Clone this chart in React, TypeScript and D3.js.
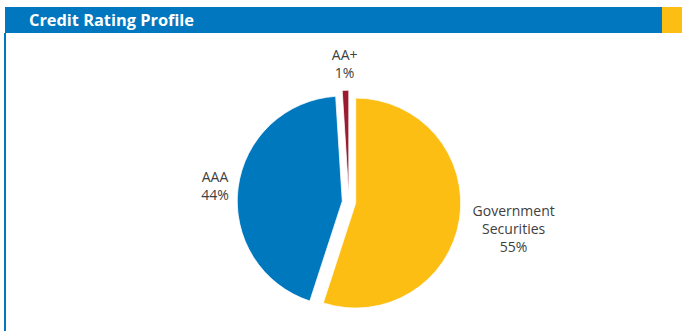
import React from "react";
import * as d3 from "d3";

const categories = ["Government\nSecurities", "AAA", "AA+"];
const values = [55, 44, 1];
const colors = ["#FDBE14", "#0078BE", "#9B1B30"];
const title = "Credit Rating Profile";

const W = 682;
const H = 331;
const cx = 349;
const cy = 202;
const R = 105;
const explode = 6.8;
const lineH = 18;
const fontSize = 14;
const font = "'Open Sans', 'DejaVu Sans', sans-serif";

export default function App() {
  const pie = d3
    .pie<number>()
    .sort(null)
    .value((d) => d)
    .startAngle(0)
    .endAngle(2 * Math.PI);
  const arcs = pie(values);
  const arc = d3.arc<d3.PieArcDatum<number>>().innerRadius(0).outerRadius(R);

  const labelW = (s: string) => Math.max(...s.split("\n").map((l) => l.length * 8.6));

  return (
    <svg
      width={W}
      height={H}
      style={{ position: "absolute", left: 0, top: 0, background: "#fff" }}
    >
      <rect x={5} y={7} width={657} height={26} fill="#0077BE" />
      <rect x={662} y={7} width={20} height={26} fill="#FDBE14" />
      <rect x={4} y={33} width={2} height={H - 33} fill="#0077BE" />
      <text
        x={29}
        y={26}
        fill="#fff"
        fontFamily="'Open Sans', sans-serif"
        fontWeight={700}
        fontSize={16}
        textLength={165}
        lengthAdjust="spacingAndGlyphs"
      >
        {title}
      </text>
      {arcs.map((a, i) => {
        const mid = (a.startAngle + a.endAngle) / 2;
        const dx = Math.sin(mid) * explode;
        const dy = -Math.cos(mid) * explode;
        return (
          <path
            key={i}
            d={arc(a) || ""}
            transform={`translate(${cx + dx},${cy + dy})`}
            fill={colors[i]}
            stroke="#fff"
            strokeWidth={0.75}
          />
        );
      })}
      {arcs.map((a, i) => {
        const mid = (a.startAngle + a.endAngle) / 2;
        const ux = Math.sin(mid);
        const uy = -Math.cos(mid);
        const lines = [...categories[i].split("\n"), `${values[i]}%`];
        const w = labelW(categories[i]);
        const h = lines.length * lineH;
        const dist = 120 + Math.abs(ux) * (w / 2) + Math.abs(uy) * (h / 2);
        const lx = cx + ux * dist;
        const ly = cy + uy * dist;
        return (
          <text
            key={"l" + i}
            textAnchor="middle"
            fontFamily={font}
            fontSize={fontSize}
            fill="#404040"
          >
            {lines.map((t, j) => (
              <tspan
                key={j}
                x={lx}
                y={ly + (j - (lines.length - 1) / 2) * lineH}
                dominantBaseline="central"
              >
                {t}
              </tspan>
            ))}
          </text>
        );
      })}
    </svg>
  );
}
